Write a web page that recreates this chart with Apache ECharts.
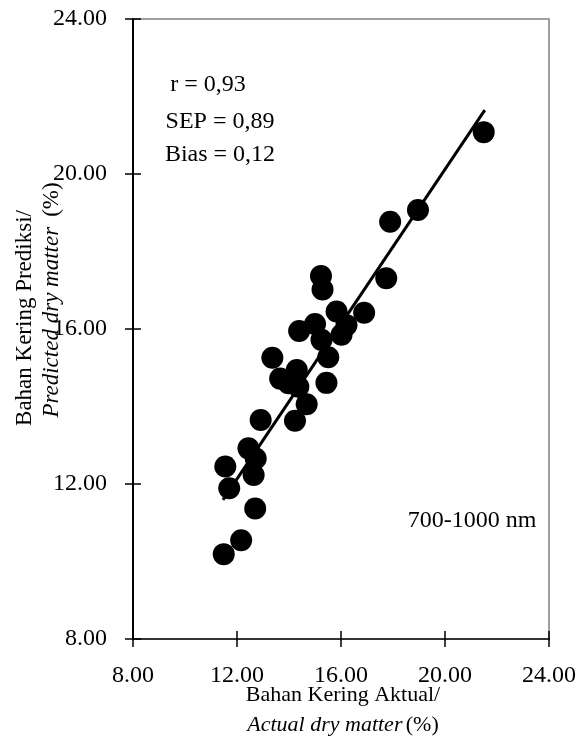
<!DOCTYPE html>
<html>
<head>
<meta charset="utf-8">
<script src="https://cdn.jsdelivr.net/npm/echarts@6/dist/echarts.min.js"></script>
<style>
  html, body { margin: 0; padding: 0; background: #fff; }
  #main { width: 579px; height: 736px; }
</style>
</head>
<body>
<div id="main"></div>
<script>
// actual vs predicted dry matter (%)
var actual = [21.49, 18.96, 17.89, 17.74, 15.23, 15.29, 15.83, 16.89, 14.39, 15.00,
              16.21, 15.25, 16.02, 15.51, 15.44, 13.36, 14.30, 13.66, 13.98, 14.36,
              14.68, 14.23, 12.91, 12.44, 12.72, 11.55, 12.64, 11.70, 12.70, 12.16, 11.49];
var predicted = [21.08, 19.07, 18.77, 17.31, 17.37, 17.02, 16.45, 16.42, 15.95, 16.13,
                 16.10, 15.72, 15.85, 15.27, 14.61, 15.26, 14.94, 14.72, 14.60, 14.51,
                 14.06, 13.63, 13.65, 12.92, 12.66, 12.45, 12.23, 11.89, 11.37, 10.55, 10.19];
// regression line end points
var fitX = [11.46, 21.53];
var fitY = [11.59, 21.65];
var axisMin = 8, axisMax = 24, axisStep = 4;
var stats = ['r = 0,93', 'SEP = 0,89', 'Bias = 0,12'];
var rangeLabel = '700-1000 nm';

var font = '"Liberation Serif", "Times New Roman", serif';

var points = actual.map(function (v, i) { return [v, predicted[i]]; });
var fitLine = fitX.map(function (v, i) { return [v, fitY[i]]; });

function fmt(v) { return v.toFixed(2); }

function label(x, y, text, size) {
  return { type: 'text', x: x, y: y,
    style: { text: text, font: size + 'px ' + font, fill: '#000', align: 'center', verticalAlign: 'middle' } };
}

var chart = echarts.init(document.getElementById('main'));
var option = {
  backgroundColor: '#fff',
  animation: false,
  grid: {
    left: 133, right: 27, top: 19, bottom: 97,
    show: true, borderColor: '#808080', borderWidth: 1.5
  },
  xAxis: [{
    type: 'value', min: axisMin, max: axisMax, interval: axisStep,
    axisLine: { lineStyle: { color: '#333', width: 2 } },
    axisTick: { length: 8, lineStyle: { color: '#000', width: 1.5 } },
    axisLabel: { formatter: fmt, color: '#000', fontFamily: font, fontSize: 24, margin: 25 },
    splitLine: { show: false }
  }, {
    type: 'value', min: axisMin, max: axisMax, interval: axisStep, position: 'bottom',
    axisLine: { show: false },
    axisTick: { inside: true, length: 8, lineStyle: { color: '#000', width: 1.5 } },
    axisLabel: { show: false },
    splitLine: { show: false }
  }],
  yAxis: [{
    type: 'value', min: axisMin, max: axisMax, interval: axisStep,
    axisLine: { lineStyle: { color: '#000', width: 2 } },
    axisTick: { length: 8, lineStyle: { color: '#000', width: 1.5 } },
    axisLabel: { formatter: fmt, color: '#000', fontFamily: font, fontSize: 24, margin: 26 },
    splitLine: { show: false }
  }, {
    type: 'value', min: axisMin, max: axisMax, interval: axisStep, position: 'left',
    axisLine: { show: false },
    axisTick: { inside: true, length: 8, lineStyle: { color: '#000', width: 1.5 } },
    axisLabel: { show: false },
    splitLine: { show: false }
  }],
  series: [{
    type: 'line',
    data: fitLine,
    showSymbol: false,
    lineStyle: { color: '#000', width: 3 },
    z: 2
  }, {
    type: 'scatter',
    data: points,
    symbol: 'circle',
    symbolSize: 22,
    itemStyle: { color: '#000', opacity: 1 },
    z: 3
  }],
  graphic: [
    label(208, 85, stats[0], 24),
    label(220, 122, stats[1], 24),
    label(220, 155, stats[2], 24),
    label(472, 521, rangeLabel, 24),
    // x axis title
    label(343, 695, 'Bahan Kering Aktual/', 22),
    { type: 'text', x: 343, y: 725, style: {
        text: '{i|Actual dry matter} {n|(%)}',
        align: 'center', verticalAlign: 'middle',
        rich: {
          i: { fontFamily: font, fontSize: 22, fontStyle: 'italic', fill: '#000' },
          n: { fontFamily: font, fontSize: 22, fill: '#000' }
        }
    } },
    // y axis title
    { type: 'text', x: 25, y: 318, rotation: Math.PI / 2, style: { text: 'Bahan Kering Prediksi/', font: '23px ' + font, fill: '#000', align: 'center', verticalAlign: 'middle' } },
    { type: 'text', x: 52, y: 300, rotation: Math.PI / 2, style: {
        text: '{i|Predicted dry matter}   {n|(%)}',
        align: 'center', verticalAlign: 'middle',
        rich: {
          i: { fontFamily: font, fontSize: 23, fontStyle: 'italic', fill: '#000' },
          n: { fontFamily: font, fontSize: 23, fill: '#000' }
        }
    } }
  ]
};
chart.setOption(option);
</script>
</body>
</html>
